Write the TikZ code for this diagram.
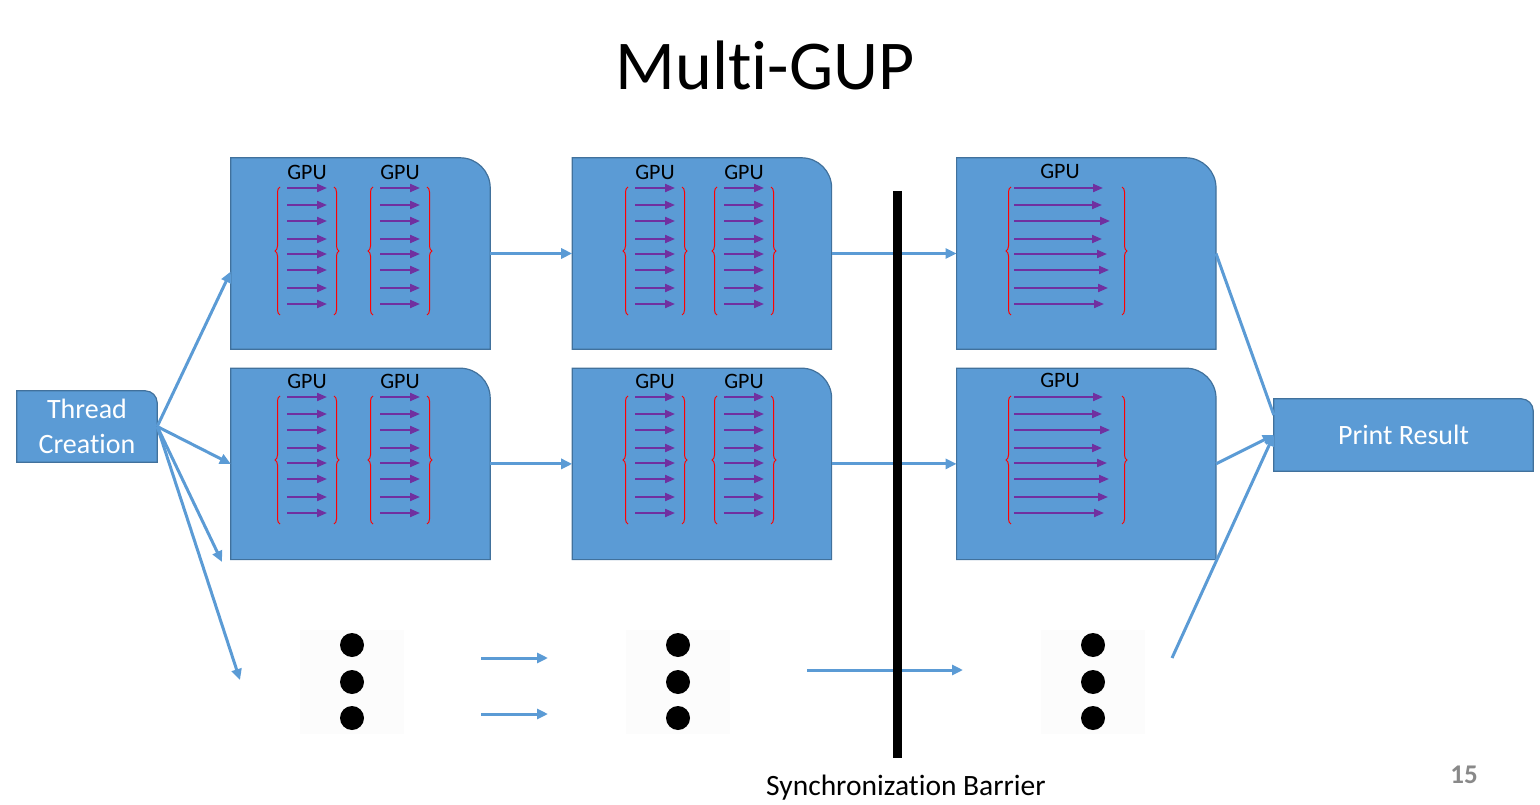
\documentclass[tikz,border=0pt]{standalone}
\usepackage{fontspec}
\setmainfont{Carlito}[Ligatures=NoCommon]
\usetikzlibrary{positioning,arrows.meta,decorations.pathreplacing,backgrounds}
\definecolor{officeblue}{HTML}{5B9BD5}
\definecolor{boxline}{HTML}{41719C}
\definecolor{threadpurple}{HTML}{7030A0}
\definecolor{pagegray}{HTML}{898989}

\begin{document}
\begin{tikzpicture}
    [
      x=1pt, y=-1pt,
      >/.tip={Triangle[length=11pt,width=10pt]},
      stage/.style={minimum width=259pt, minimum height=191pt, inner sep=0pt},
      my box/.style={minimum width=#1, minimum height=72pt, inner sep=0pt, text=white, align=center, font=\fontsize{28}{35}\selectfont},
      box fill/.style={fill=officeblue, draw=boxline, line width=1.2pt},
      flow/.style={draw=officeblue, line width=3pt},
      thread/.style={draw=threadpurple, line width=2pt, -{Triangle[length=10pt,width=8pt]}},
      thread brace/.style={draw=red, line width=1pt, decorate, decoration={brace, amplitude=5pt}},
      gpu label/.style={font=\fontsize{22}{24}\selectfont},
      dot box/.style={minimum size=104pt, inner sep=0pt, fill=black!1}
    ]
    \useasboundingbox (0,0) rectangle (1540,805);
    \node (title) [font=\fontsize{70}{84}\selectfont] at (765,65) {Multi-GUP};

    \node (s11) [stage] at (360.5,253.5) {};
    \node (s12) [stage, right=82pt of s11] {};
    \node (s13) [stage, right=125pt of s12] {};
    \node (s21) [stage, below=19pt of s11] {};
    \node (s22) [stage, right=82pt of s21] {};
    \node (s23) [stage, right=125pt of s22] {};
    \node (tc) [my box=140pt, minimum height=71pt] at (87,426.5) {Thread\\Creation};
    \node (pr) [my box=259pt] at (1403.5,435) {Print Result};

    \begin{scope}[on background layer]
      \foreach \n in {s11,s12,s13,s21,s22,s23}
        \path [box fill] (\n.south west) |- ([xshift=-30pt]\n.north east) arc [start angle=90, end angle=0, radius=30pt] |- cycle;
      \foreach \n in {tc,pr}
        \path [box fill] (\n.south west) |- ([xshift=-12pt]\n.north east) arc [start angle=90, end angle=0, radius=12pt] |- cycle;
    \end{scope}

    % threads inside the gpus
    \foreach \ty in {158,367} {
      \foreach \cx in {307,400,655,744} {
        \node (g\cx\ty) [gpu label] at (\cx,\ty+14) {GPU};
        \path [thread brace] (\cx-27,\ty+157) -- (\cx-27,\ty+29);
        \path [thread brace] (\cx+27,\ty+29) -- (\cx+27,\ty+157);
        \foreach \dy in {30,47,63,81,96,112,130,146}
          \path [thread] (\cx-20,\ty+\dy) -- (\cx+20,\ty+\dy);
      }
      \node (g1060\ty) [gpu label] at (1060,\ty+13) {GPU};
      \path [thread brace] (1011,\ty+157) -- (1011,\ty+29);
      \path [thread brace] (1122,\ty+29) -- (1122,\ty+157);
      \foreach \dy/\ex in {30/1103,47/1102,63/1110,81/1102,96/1107,112/1109,130/1108,146/1104}
        \path [thread] (1014,\ty+\dy) -- (\ex,\ty+\dy);
    }

    % the rows that are left out
    \foreach \n/\x in {d1/352,d2/678,d3/1093} {
      \node (\n) [dot box] at (\x,682) {};
      \foreach \dy in {-37,0,36}
        \fill (\n) ++(0,\dy) circle [radius=12pt];
    }
    \coordinate (c3) at (222,562);
    \coordinate (c4) at (240,680);
    \coordinate (a1) at (481,658);
    \coordinate (b1) at (548,658);
    \coordinate (a2) at (481,714);
    \coordinate (b2) at (548,714);
    \coordinate (a3) at (807,670);
    \coordinate (b3) at (963,670);
    \coordinate (a4) at (1172,658);

    \path [->, flow] (tc.east) -- ([yshift=-18pt]s11.west);
    \path [->, flow] (tc.east) -- (s21.west);
    \path [->, flow] (tc.east) -- (c3);
    \path [->, flow] (tc.east) -- (c4);
    \path [->, flow] (s11) -- (s12);
    \path [->, flow] (s21) -- (s22);
    \path [->, flow] (s12) -- (s13);
    \path [->, flow] (s22) -- (s23);
    \path [->, flow] (a1) -- (b1);
    \path [->, flow] (a2) -- (b2);
    \path [->, flow] (a3) -- (b3);
    \path [flow] (s13.east) -- ([yshift=20pt]pr.west);
    \path [->, flow] (s23.east) -- (pr.west);
    \path [->, flow] (a4) -- (pr.west);

    % barrier
    \coordinate (bar top) at (897,191);
    \coordinate (bar bottom) at (897,758);
    \draw [line width=9pt] (bar top) -- (bar bottom);
    \node (sync) [font=\fontsize{29.5}{33}\selectfont] at (906,788) {Synchronization Barrier};
    \node (page) [text=pagegray, font=\bfseries\fontsize{27}{30}\selectfont] at (1464,775) {15};
  \end{tikzpicture}
\end{document}
